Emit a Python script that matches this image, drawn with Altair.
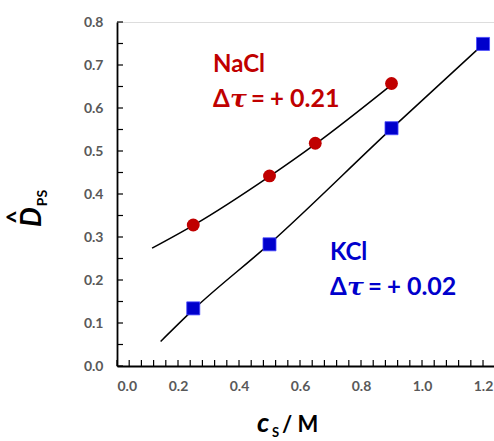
import altair as alt
import pandas as pd

# Measured data points
nacl_x = [0.25, 0.50, 0.65, 0.90]
nacl_y = [0.328, 0.442, 0.518, 0.657]
kcl_x = [0.25, 0.50, 0.90, 1.20]
kcl_y = [0.134, 0.283, 0.553, 0.749]

# Fitted curves
nacl_fit_x = [0.115, 0.25, 0.50, 0.65, 0.90]
nacl_fit_y = [0.274, 0.327, 0.441, 0.516, 0.654]
kcl_fit_x = [0.143, 0.25, 0.50, 0.90, 1.20]
kcl_fit_y = [0.057, 0.131, 0.284, 0.552, 0.748]

# Tick positions (minor and major) and the labelled ones
x_ticks = [round(i * 0.04, 2) for i in range(31)]
y_ticks = [round(i * 0.05, 2) for i in range(17)]
x_labels = [0.0, 0.2, 0.4, 0.6, 0.8, 1.0, 1.2]
y_labels = [0.0, 0.1, 0.2, 0.3, 0.4, 0.5, 0.6, 0.7, 0.8]

RED = "#C00000"
BLUE = "#0000CC"
FONT = "Lato"
W, H = 377, 344
TICK = 6

pts_nacl = pd.DataFrame({"c": nacl_x, "d": nacl_y})
pts_kcl = pd.DataFrame({"c": kcl_x, "d": kcl_y})
fit_nacl = pd.DataFrame({"c": nacl_fit_x, "d": nacl_fit_y})
fit_kcl = pd.DataFrame({"c": kcl_fit_x, "d": kcl_fit_y})

xscale = alt.Scale(domain=[0, 1.236], nice=False, zero=False)
yscale = alt.Scale(domain=[0, 0.8], nice=False, zero=False)

axis_common = dict(
    title=None, grid=False, ticks=False, labelOverlap=False,
    domainColor="black", domainWidth=1.8, labelFont=FONT, labelFontSize=14,
    labelFontWeight="bold", labelColor="#595959",
)
x_axis = alt.Axis(values=x_labels, format=".1f", labelPadding=13, **axis_common)
y_axis = alt.Axis(values=y_labels, format=".1f", labelPadding=14, **axis_common)

X = alt.X("c:Q", scale=xscale, axis=x_axis)
Y = alt.Y("d:Q", scale=yscale, axis=y_axis)

line_nacl = alt.Chart(fit_nacl).mark_line(color="black", strokeWidth=1.5, interpolate="monotone").encode(x=X, y=Y)
line_kcl = alt.Chart(fit_kcl).mark_line(color="black", strokeWidth=1.5, interpolate="monotone").encode(x=X, y=Y)

dots_nacl = alt.Chart(pts_nacl).mark_point(
    shape="circle", filled=True, size=165, color=RED, opacity=1
).encode(x=X, y=Y)
dots_kcl = alt.Chart(pts_kcl).mark_point(
    shape="square", filled=True, size=170, color=BLUE, opacity=1,
    stroke="#4a4aff", strokeWidth=0.8
).encode(x=X, y=Y)

# Inward-pointing tick marks on both axes
x_tick_marks = alt.Chart(pd.DataFrame({"c": x_ticks})).mark_rule(
    color="black", strokeWidth=1.2
).encode(x=alt.X("c:Q", scale=xscale), y=alt.value(H), y2=alt.value(H - TICK))
y_tick_marks = alt.Chart(pd.DataFrame({"d": y_ticks})).mark_rule(
    color="black", strokeWidth=1.2
).encode(y=alt.Y("d:Q", scale=yscale), x=alt.value(0), x2=alt.value(TICK))


def label(text, x, y, color, dx=0, size=24, style="normal", font=FONT):
    return alt.Chart(pd.DataFrame({"c": [x], "d": [y], "t": [text]})).mark_text(
        align="left", baseline="alphabetic", font=font, fontSize=size,
        fontWeight="bold", fontStyle=style, color=color, dx=dx
    ).encode(x=alt.X("c:Q", scale=xscale), y=alt.Y("d:Q", scale=yscale), text="t:N")


def delta_tau(value, x, y, color):
    return [
        label("Δ", x, y, color),
        label("τ", x, y, color, dx=17, size=25, style="italic", font="DejaVu Serif"),
        label("=", x, y, color, dx=38),
        label("+", x, y, color, dx=57),
        label(value, x, y, color, dx=77, size=25),
    ]


annotations = [
    label("NaCl", 0.315, 0.684, RED),
    *delta_tau("0.21", 0.315, 0.603, RED),
    label("KCl", 0.698, 0.2465, BLUE),
    *delta_tau("0.02", 0.698, 0.165, BLUE),
]


def free_text(text, x, y, size, angle=0, style="normal", align="center", baseline="middle"):
    return alt.Chart(pd.DataFrame({"t": [text]})).mark_text(
        font=FONT, fontSize=size, fontWeight="bold", fontStyle=style, color="black",
        angle=angle, align=align, baseline=baseline
    ).encode(x=alt.value(x), y=alt.value(y), text="t:N")


titles = [
    # y title: D-hat with subscript PS, rotated
    free_text("D", -84, 195, 28, angle=270, style="italic"),
    free_text("^", -99, 195, 24, angle=270),
    free_text("PS", -74, 176, 14, angle=270),
    # x title: c_S / M
    free_text("c", 140, 410, 27, style="italic", align="left", baseline="alphabetic"),
    free_text("S", 155, 415, 13, align="left", baseline="alphabetic"),
    free_text("/ M", 165, 410, 22, align="left", baseline="alphabetic"),
]

chart = alt.layer(
    x_tick_marks, y_tick_marks,
    line_nacl, line_kcl, dots_nacl, dots_kcl, *annotations, *titles
).properties(
    width=W, height=H,
    autosize=alt.AutoSizeParams(type="none"),
    padding={"left": 117, "top": 22, "right": 0, "bottom": 75},
).configure_view(
    stroke="black", strokeWidth=1.8
).configure(background="white")

chart.save("out.html", embed_options={"renderer": "svg", "actions": False})
